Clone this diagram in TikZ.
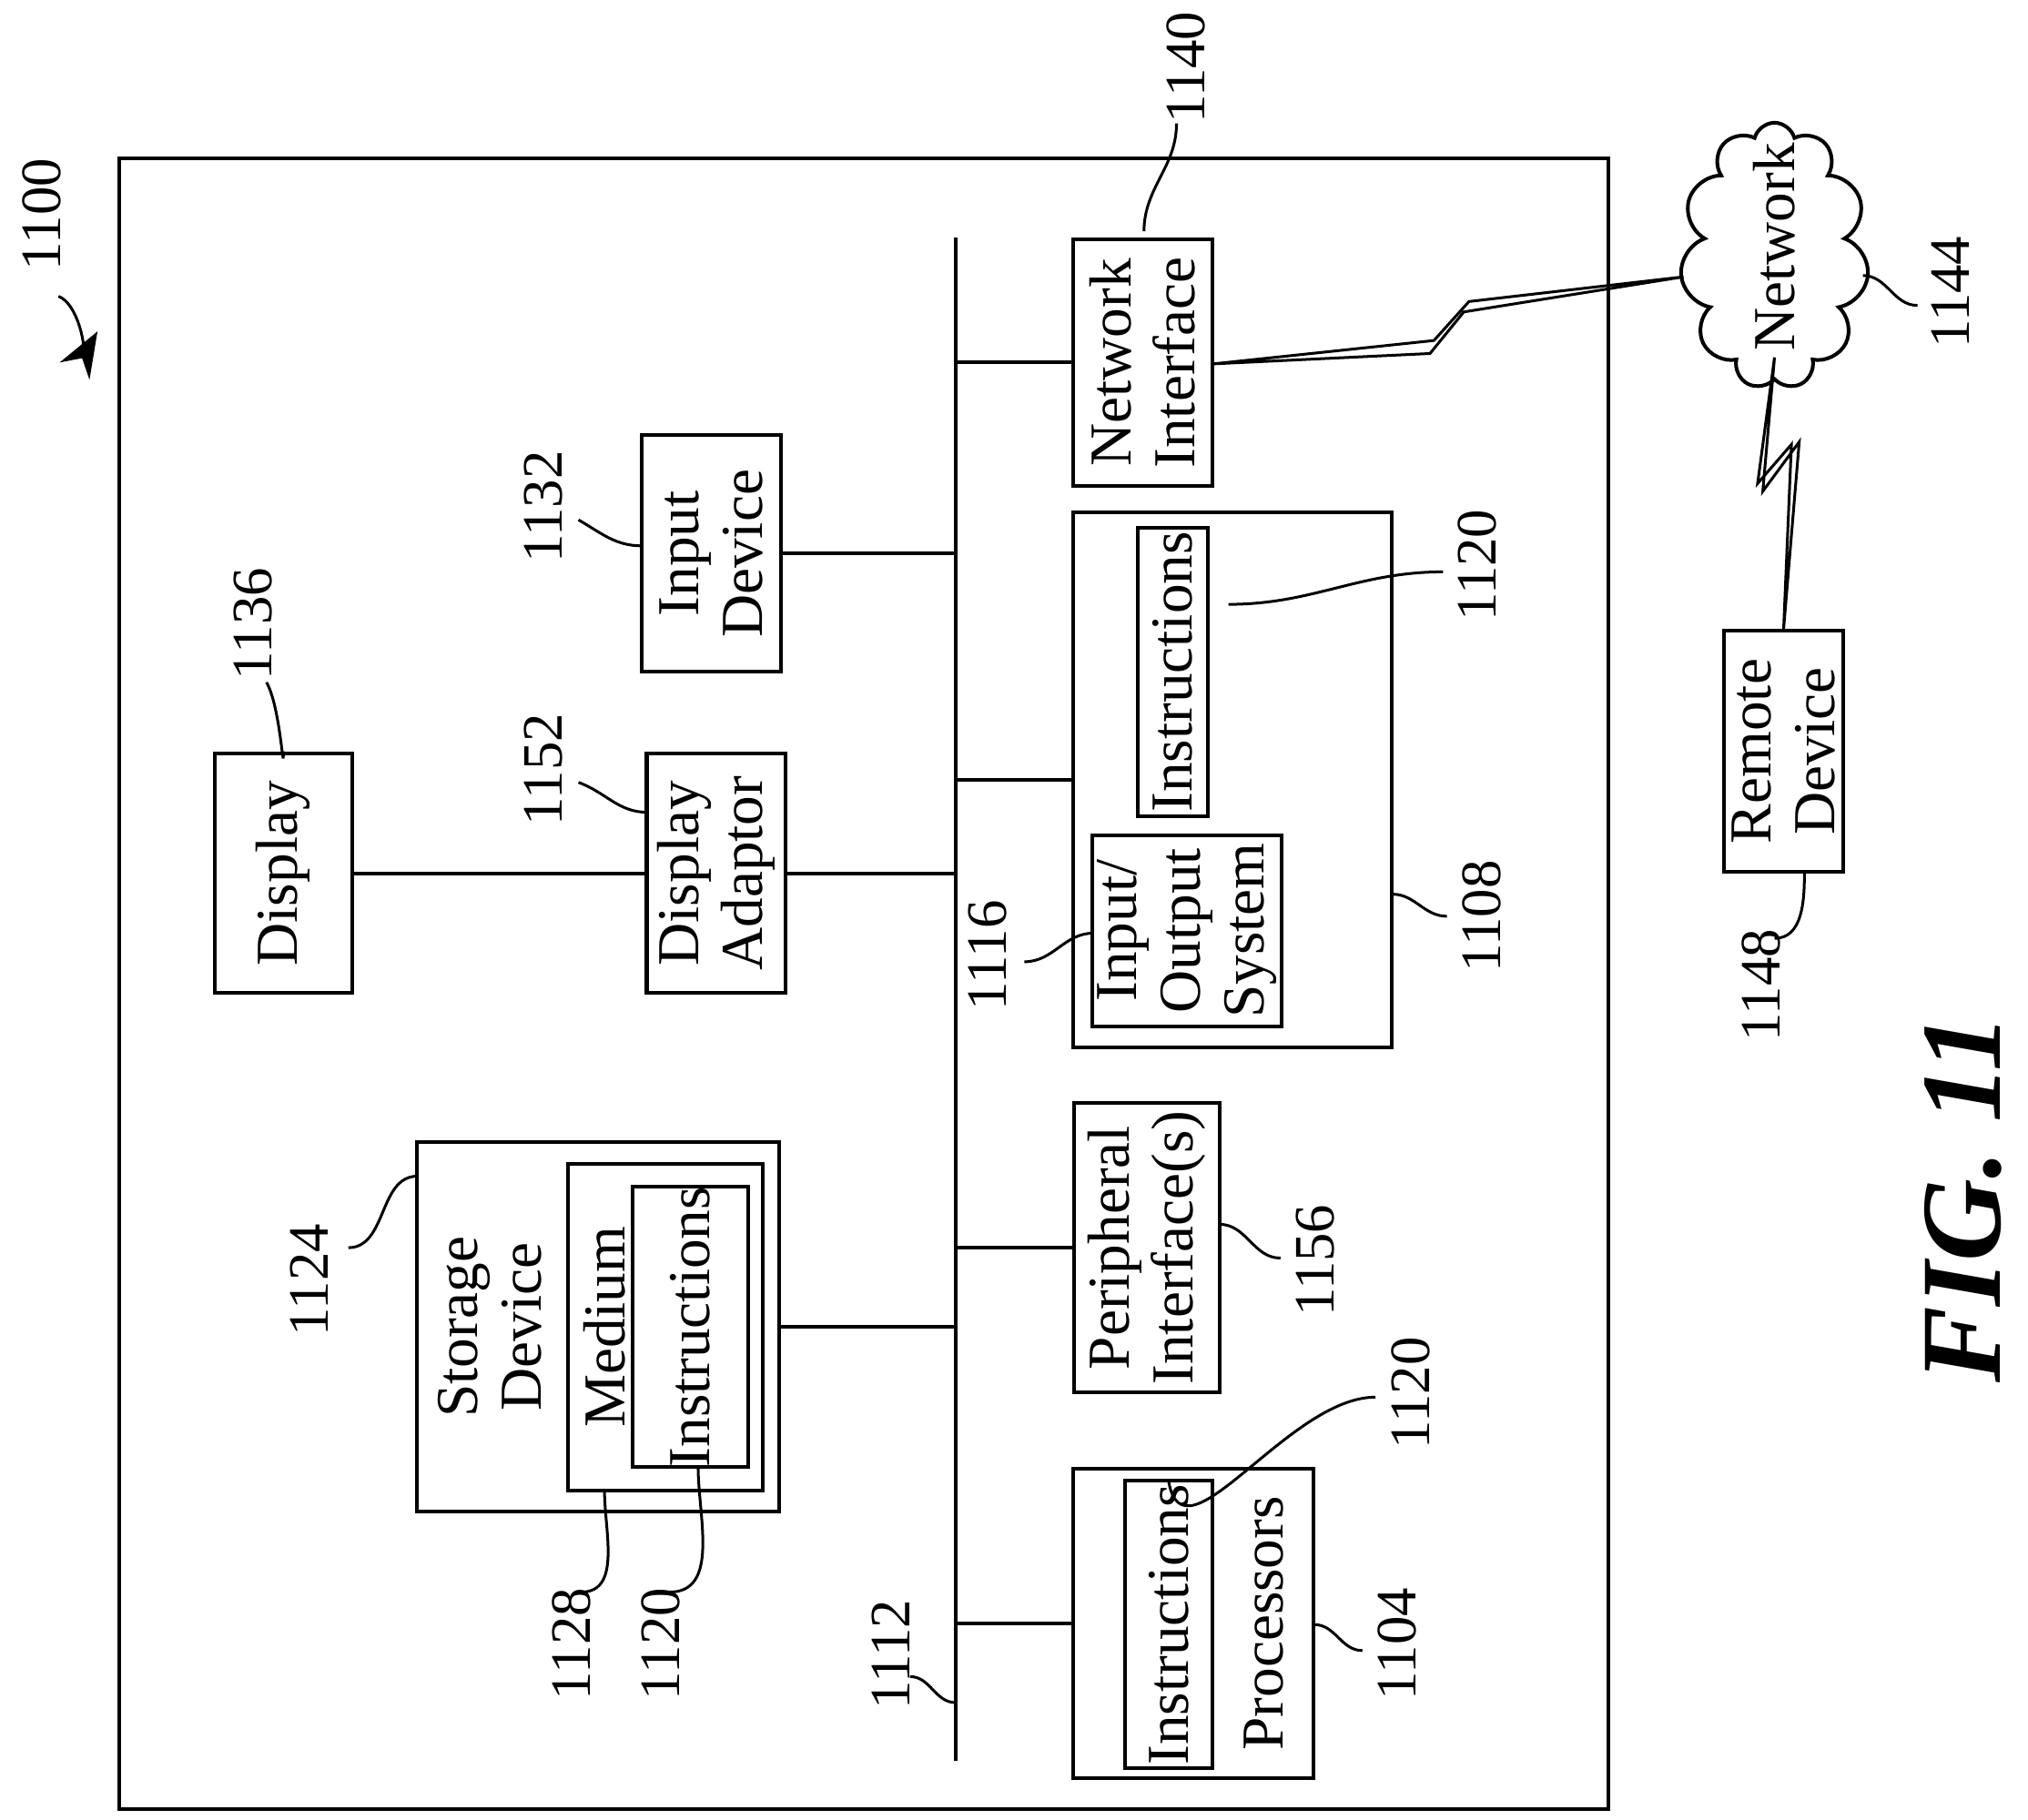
\documentclass[tikz,border=0pt]{standalone}
\usepackage{fontspec}
\setmainfont{Liberation Serif}
\usetikzlibrary{shapes.symbols,arrows.meta}
\begin{document}
\begin{tikzpicture}[x=0.01cm,y=-0.01cm,line width=0.8pt,
    box/.style={draw,rotate=90,align=center,inner sep=0pt,font=\fontsize{13}{14}\selectfont},
    num/.style={rotate=90,font=\fontsize{12.5}{14}\selectfont,inner sep=1pt},
    lead/.style={line width=0.6pt}]
  \useasboundingbox (0,0) rectangle (1560,1400);
  \draw (92,122) rectangle (1237,1392);
  % bus
  \coordinate (bustop) at (735,183);
  \coordinate (busbot) at (735,1355);
  \draw (bustop) -- (busbot);

  \node[box,minimum width=1.9cm,minimum height=1.07cm] (ni) at (879,279) {Network\\Interface};
  \node[box,minimum width=1.82cm,minimum height=1.07cm] (inp) at (547,426) {Input\\Device};
  \node[box,minimum width=1.84cm,minimum height=1.06cm] (disp) at (218,672) {Display};
  \node[box,minimum width=1.84cm,minimum height=1.07cm] (adap) at (551,672) {Display\\Adaptor};
  \node[box,minimum width=4.11cm,minimum height=2.45cm] (mem) at (948,600) {};
  \node[box,minimum width=2.22cm,minimum height=0.54cm] (minst) at (902,517) {Instructions};
  \node[box,minimum width=1.47cm,minimum height=1.45cm] (bios) at (913,716) {Input/\\Output\\System};
  \node[box,minimum width=2.22cm,minimum height=1.12cm] (per) at (882,960) {Peripheral\\Interface(s)};
  \node[box,minimum width=2.84cm,minimum height=2.78cm] (stor) at (460,1021) {};
  \node[rotate=90,font=\fontsize{13}{14}\selectfont,align=center] (stortxt) at (377,1021) {Storage\\Device};
  \node[box,minimum width=2.51cm,minimum height=1.5cm] (med) at (512,1021) {};
  \node[rotate=90,font=\fontsize{13}{14}\selectfont] at (465,1021) {Medium};
  \node[box,minimum width=2.15cm,minimum height=0.89cm] (sinst) at (531,1021) {Instructions};
  \node[box,minimum width=2.38cm,minimum height=1.85cm] (proc) at (918,1249) {};
  \node[box,minimum width=2.21cm,minimum height=0.67cm] (pinst) at (899,1250) {Instructions};
  \node[rotate=90,font=\fontsize{13}{14}\selectfont] at (972,1249) {Processors};
  \node[box,minimum width=1.85cm,minimum height=0.92cm] (rem) at (1372,578) {Remote\\Device};
  \node[cloud,draw,cloud puffs=11,aspect=0.7,inner sep=0pt,minimum width=1.45cm,minimum height=2.05cm] (net) at (1365,197) {};
  \node[rotate=90,font=\fontsize{13}{14}\selectfont] at (1365,190) {Network};

  % bus connections
  \foreach \b in {ni,inp,mem,per,stor,proc}
    \draw (\b) -- (\b -| bustop);
  \draw (disp) -- (adap);
  \draw (adap) -- (adap -| bustop);

  % wireless links
  \coordinate (nc) at (1295,213);
  \coordinate (rc) at (1365,275);
  \coordinate (ne) at (933,280);
  \draw[line width=0.6pt] (ne) -- (1103,262) -- (1130,232) -- (nc) -- (1126,240) -- (1100,272) -- cycle;
  \draw[line width=0.6pt] (rc) -- (1352,372) -- (1378,342) -- (rem.east) -- (1384,340) -- (1356,378) -- cycle;

  % reference numerals
  \node[num] (l1100) at (32,165) {1100};
  \draw[lead,-{Stealth[length=10pt]}] (45,228) to[out=-20,in=-120] (75,255);
  \node[num] (l1140) at (912,52) {1140};
  \draw[lead] (880,178) to[out=90,in=-90] (905,95);
  \node[num] (l1144) at (1500,225) {1144};
  \draw[lead] (1433,212) to[out=0,in=180] (1475,235);
  \node[num] (l1132) at (418,390) {1132};
  \draw[lead] (445,400) to[out=-30,in=180] (494,420);
  \node[num] (l1120a) at (1136,435) {1120};
  \draw[lead] (945,465) to[out=0,in=180] (1110,440);
  \node[num] (l1136) at (195,480) {1136};
  \draw[lead] (205,525) to[out=-60,in=-90] (218,578);
  \node[num] (l1152) at (418,592) {1152};
  \draw[lead] (445,602) to[out=-20,in=180] (498,625);
  \node[num] (l1116) at (760,735) {1116};
  \draw[lead] (788,740) to[out=0,in=180] (841,718);
  \node[num] (l1108) at (1140,705) {1108};
  \draw[lead] (1071,688) to[out=0,in=180] (1113,705);
  \node[num] (l1124) at (238,985) {1124};
  \draw[lead] (268,960) to[out=0,in=180] (321,905);
  \node[num] (l1156) at (1012,970) {1156};
  \draw[lead] (938,942) to[out=0,in=180] (985,968);
  \node[num] (l1120b) at (1085,1072) {1120};
  \draw[lead] (899,1140) to[out=-80,in=180] (1058,1075);
  \node[num] (l1128) at (440,1265) {1128};
  \draw[lead] (465,1147) to[out=-90,in=0] (447,1225);
  \node[num] (l1120c) at (508,1265) {1120};
  \draw[lead] (537,1128) to[out=-90,in=0] (515,1225);
  \node[num] (l1112) at (685,1273) {1112};
  \draw[lead] (700,1290) to[out=0,in=180] (735,1310);
  \node[num] (l1104) at (1075,1265) {1104};
  \draw[lead] (1011,1250) to[out=0,in=180] (1048,1270);
  \node[num] (l1148) at (1355,758) {1148};
  \draw[lead] (1388,672) to[out=-90,in=0] (1365,722);

  \node[rotate=90,font=\fontsize{25}{28}\selectfont\bfseries\itshape] (fig) at (1510,922) {FIG. 11};
\end{tikzpicture}
\end{document}
